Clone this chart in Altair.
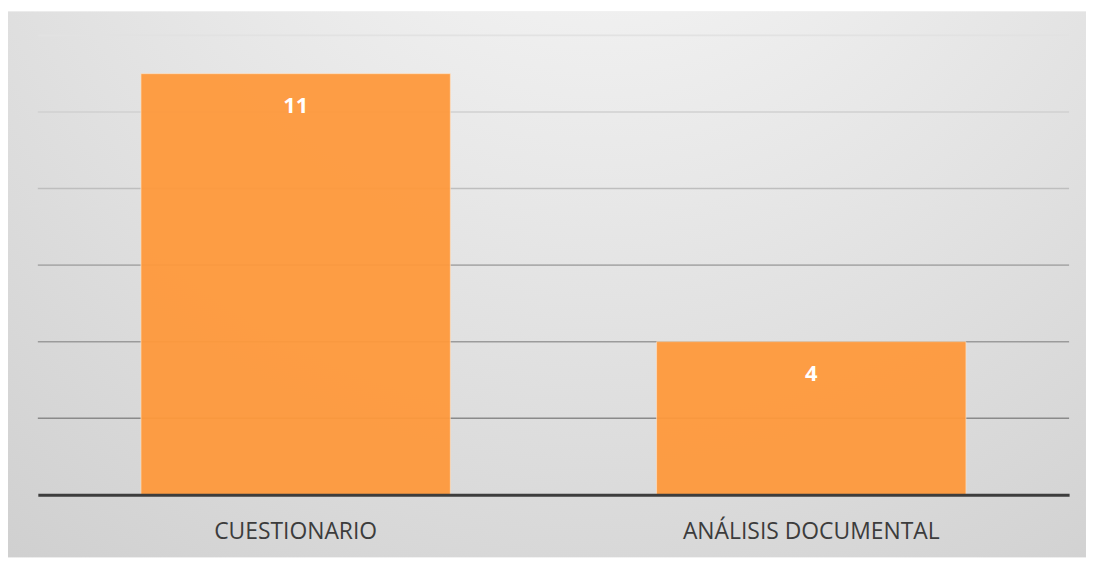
import altair as alt
import pandas as pd

categories = ["CUESTIONARIO", "ANÁLISIS DOCUMENTAL"]
values = [11, 4]
grid_values = [2, 4, 6, 8, 10, 12]

W, H = 1037, 462
PAD = {"left": 30, "top": 26, "right": 17, "bottom": 63}

df = pd.DataFrame({"cat": categories, "val": values})
grid_df = pd.DataFrame({"g": grid_values})
bg_df = pd.DataFrame({"a": [0]})

x_enc = alt.X(
    "cat:N",
    sort=categories,
    title=None,
    scale=alt.Scale(paddingInner=0.4, paddingOuter=0.2),
    axis=alt.Axis(
        labelAngle=0,
        labelFont="Open Sans",
        labelFontSize=23,
        labelColor="#3c3c3c",
        labelPadding=37,
        labelBaseline="middle",
        labelLimit=600,
        ticks=False,
        domainColor="#3d3d3d",
        domainWidth=3,
        grid=False,
        zindex=2,
    ),
)
y_scale = alt.Scale(domain=[0, 12], nice=False)

bg = alt.Chart(bg_df).mark_rect(
    fill=alt.RadialGradient(
        gradient="radial",
        x1=0.55, y1=0.0, r1=0.0,
        x2=0.55, y2=0.0, r2=1.1,
        stops=[
            alt.GradientStop(color="#fbfbfb", offset=0),
            alt.GradientStop(color="#e4e4e4", offset=0.45),
            alt.GradientStop(color="#c8c8c8", offset=1),
        ],
    )
).encode(
    x=alt.value(-30), x2=alt.value(W + 17),
    y=alt.value(-24), y2=alt.value(H + 63),
)

grid = alt.Chart(grid_df).mark_rule(strokeWidth=1.6).encode(
    y=alt.Y("g:Q", scale=y_scale, axis=None),
    color=alt.Color("g:Q", scale=alt.Scale(domain=[2, 12], range=["#8a8a8a", "#e2e2e2"]), legend=None),
)

bars = alt.Chart(df).mark_bar(
    color="#ff993b", opacity=0.94, stroke="#ffe2c4", strokeWidth=1, strokeOpacity=0.7
).encode(
    x=x_enc,
    y=alt.Y("val:Q", scale=y_scale, axis=None),
)

labels = alt.Chart(df).mark_text(
    font="Open Sans", fontSize=22, fontWeight="bold", color="white",
    baseline="middle", dy=33,
).encode(
    x=alt.X("cat:N", sort=categories),
    y=alt.Y("val:Q", scale=y_scale, axis=None),
    text="val:Q",
)

chart = alt.layer(bg, grid, bars, labels).resolve_scale(color="independent").properties(
    width=W, height=H,
    autosize=alt.AutoSizeParams(type="none"),
    padding=PAD,
    background="white",
).configure_view(stroke=None)

chart.save("out.html", embed_options={"renderer": "svg", "actions": False})
